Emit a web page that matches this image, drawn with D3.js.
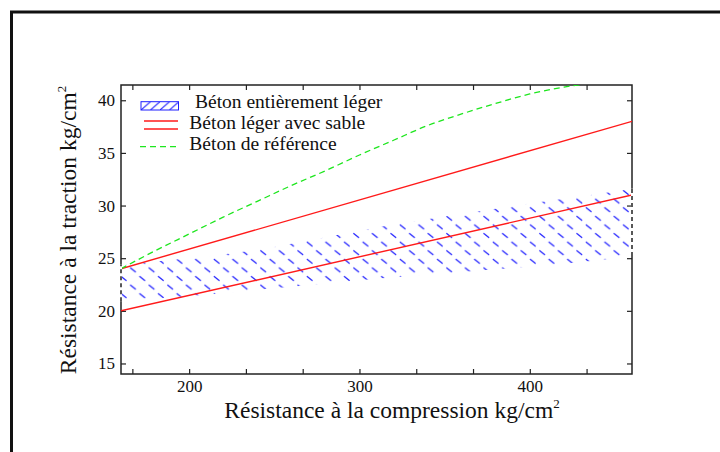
<!DOCTYPE html>
<html>
<head>
<meta charset="utf-8">
<script src="https://cdn.jsdelivr.net/npm/d3@7/dist/d3.min.js"></script>
<style>
  html, body { margin: 0; padding: 0; background: #fff; }
  svg { display: block; }
</style>
</head>
<body>
<svg id="chart" width="720" height="452"></svg>
<script>
// Compression strength (kg/cm²) axis
const xTicks = [166.67, 200, 233.33, 266.67, 300, 333.33, 366.67, 400, 433.33];
const xTickLabels = [200, 300, 400];
const yTicks = [15, 20, 25, 30, 35, 40];

// Lightweight concrete with sand: band bounded by two straight lines
const sandX = [160, 460];
const sandLower = [20, 31];
const sandUpper = [24, 38];

// Reference concrete curve
const refX = [160, 180, 200, 220, 240, 260, 280, 300, 320, 340, 360, 380, 400, 420, 440];
const refY = [24.0, 25.7, 27.3, 28.9, 30.4, 31.9, 33.3, 34.8, 36.2, 37.6, 38.7, 39.7, 40.6, 41.25, 41.7];

// Fully lightweight concrete: hatched band
const lightX = [160, 200, 240, 280, 320, 360, 400, 440, 460];
const lightUpper = [24.4, 25.0, 25.8, 27.0, 28.2, 29.2, 30.2, 31.1, 31.6];
const lightLower = [20.9, 21.4, 22.0, 22.6, 23.2, 23.7, 24.2, 24.8, 25.2];

const legendLabels = ["Béton entièrement léger", "Béton léger avec sable", "Béton de référence"];

const SERIF = "'Liberation Serif', 'Times New Roman', Times, serif";

const svg = d3.select("#chart").attr("font-family", SERIF);
const plot = { left: 121, right: 632, top: 85, bottom: 374 };

const x = d3.scaleLinear().domain([160, 460]).range([plot.left, plot.right]);
const y = d3.scaleLinear().domain([14, 41.45]).range([plot.bottom, plot.top]);

// outer frame
svg.append("rect")
  .attr("x", 11.5).attr("y", 12)
  .attr("width", 1000).attr("height", 1000)
  .attr("fill", "none").attr("stroke", "#111").attr("stroke-width", 3);

const defs = svg.append("defs");
defs.append("clipPath").attr("id", "plotClip")
  .append("rect")
  .attr("x", plot.left).attr("y", plot.top)
  .attr("width", plot.right - plot.left).attr("height", plot.bottom - plot.top);

// dashed "\" hatching for the band
const hatch = defs.append("pattern")
  .attr("id", "hatch").attr("patternUnits", "userSpaceOnUse")
  .attr("x", plot.left - 2).attr("y", plot.top)
  .attr("width", 18.6).attr("height", 17.2);
[[4.65, 4.3], [13.95, 12.9]].forEach(([cx, cy]) => {
  hatch.append("line")
    .attr("x1", cx - 2.4).attr("y1", cy - 1.9)
    .attr("x2", cx + 2.4).attr("y2", cy + 1.9)
    .attr("stroke", "#2222ff").attr("stroke-width", 1.3)
    .attr("stroke-linecap", "round");
});

// "/" hatching for the legend swatch
const hatchL = defs.append("pattern")
  .attr("id", "hatchL").attr("patternUnits", "userSpaceOnUse")
  .attr("x", 141).attr("y", 101.7)
  .attr("width", 9.5).attr("height", 8.3);
hatchL.append("line")
  .attr("x1", 0).attr("y1", 8.3).attr("x2", 9.5).attr("y2", 0)
  .attr("stroke", "#1f1fff").attr("stroke-width", 1.1);

// axes (ticks point inward)
const fmtX = d => xTickLabels.includes(Math.round(d)) ? String(Math.round(d)) : "";
const axes = svg.append("g").attr("class", "axes");

function styleAxis(g) {
  g.select(".domain").remove();
  g.attr("font-family", SERIF).attr("font-size", 17);
  g.selectAll(".tick line").attr("stroke", "#222").attr("stroke-width", 1.2);
  g.selectAll(".tick text").attr("fill", "#111");
  g.selectAll(".tick text").filter(function () { return this.textContent === ""; }).remove();
}

axes.append("g").attr("transform", `translate(0,${plot.bottom})`)
  .call(d3.axisBottom(x).tickValues(xTicks).tickFormat(fmtX).tickSize(-5).tickPadding(6))
  .call(styleAxis);
axes.append("g").attr("transform", `translate(0,${plot.top})`)
  .call(d3.axisTop(x).tickValues(xTicks).tickFormat("").tickSize(-5))
  .call(styleAxis);
axes.append("g").attr("transform", `translate(${plot.left},0)`)
  .call(d3.axisLeft(y).tickValues(yTicks).tickFormat(d3.format("d")).tickSize(-5).tickPadding(6))
  .call(styleAxis);
axes.append("g").attr("transform", `translate(${plot.right},0)`)
  .call(d3.axisRight(y).tickValues(yTicks).tickFormat("").tickSize(-5))
  .call(styleAxis);

svg.append("rect")
  .attr("x", plot.left).attr("y", plot.top)
  .attr("width", plot.right - plot.left).attr("height", plot.bottom - plot.top)
  .attr("fill", "none").attr("stroke", "#222").attr("stroke-width", 1.5);

const data = svg.append("g").attr("clip-path", "url(#plotClip)");

// hatched band
const lightRows = lightX.map((v, i) => ({ x: v, lo: lightLower[i], hi: lightUpper[i] }));
data.append("path")
  .datum(lightRows)
  .attr("fill", "url(#hatch)")
  .attr("d", d3.area().x(d => x(d.x)).y0(d => y(d.lo)).y1(d => y(d.hi)).curve(d3.curveMonotoneX));

// dashed side edges of the band, drawn over the frame
[lightRows[0], lightRows[lightRows.length - 1]].forEach(d => {
  svg.append("line")
    .attr("x1", x(d.x)).attr("x2", x(d.x)).attr("y1", y(d.lo)).attr("y2", y(d.hi))
    .attr("stroke", "#fff").attr("stroke-width", 2);
  svg.append("line")
    .attr("x1", x(d.x)).attr("x2", x(d.x)).attr("y1", y(d.lo)).attr("y2", y(d.hi))
    .attr("stroke", "#222").attr("stroke-width", 1.5).attr("stroke-dasharray", "4,3");
});

// red lines
const lineXY = d3.line().x(d => x(d[0])).y(d => y(d[1]));
[sandLower, sandUpper].forEach(vals => {
  data.append("path")
    .datum(sandX.map((v, i) => [v, vals[i]]))
    .attr("fill", "none").attr("stroke", "#ff1a1a").attr("stroke-width", 1.4)
    .attr("d", lineXY);
});

// green dashed reference curve
data.append("path")
  .datum(refX.map((v, i) => [v, refY[i]]))
  .attr("fill", "none").attr("stroke", "#1ee61e").attr("stroke-width", 1.3)
  .attr("stroke-dasharray", "6,4")
  .attr("d", d3.line().x(d => x(d[0])).y(d => y(d[1])).curve(d3.curveMonotoneX));

// legend
const leg = svg.append("g").attr("font-family", SERIF);
leg.append("rect")
  .attr("x", 141).attr("y", 101.7).attr("width", 37.5).attr("height", 8.3)
  .attr("fill", "url(#hatchL)").attr("stroke", "#1f1fff").attr("stroke-width", 1);
[121, 129].forEach(yy => {
  leg.append("line").attr("x1", 144).attr("x2", 178).attr("y1", yy).attr("y2", yy)
    .attr("stroke", "#ff1a1a").attr("stroke-width", 1.5);
});
leg.append("line").attr("x1", 140).attr("x2", 178).attr("y1", 146.7).attr("y2", 146.7)
  .attr("stroke", "#1ee61e").attr("stroke-width", 1.3).attr("stroke-dasharray", "6,4");

const legPos = [[195, 108.3], [189.3, 129.3], [189.3, 149.6]];
legendLabels.forEach((t, i) => {
  leg.append("text").attr("x", legPos[i][0]).attr("y", legPos[i][1])
    .attr("fill", "#111").attr("font-size", 19.5).text(t);
});

// axis titles
const xt = svg.append("text").attr("x", 392).attr("y", 418)
  .attr("text-anchor", "middle").attr("fill", "#111").attr("font-size", 23.5);
xt.append("tspan").text("Résistance à la compression kg/cm");
xt.append("tspan").attr("dy", -10).attr("font-size", 13).text("2");

const yt = svg.append("text")
  .attr("transform", "translate(76,230) rotate(-90)")
  .attr("text-anchor", "middle").attr("fill", "#111").attr("font-size", 23.5);
yt.append("tspan").text("Résistance à la traction kg/cm");
yt.append("tspan").attr("dy", -10).attr("font-size", 13).text("2");
</script>
</body>
</html>
